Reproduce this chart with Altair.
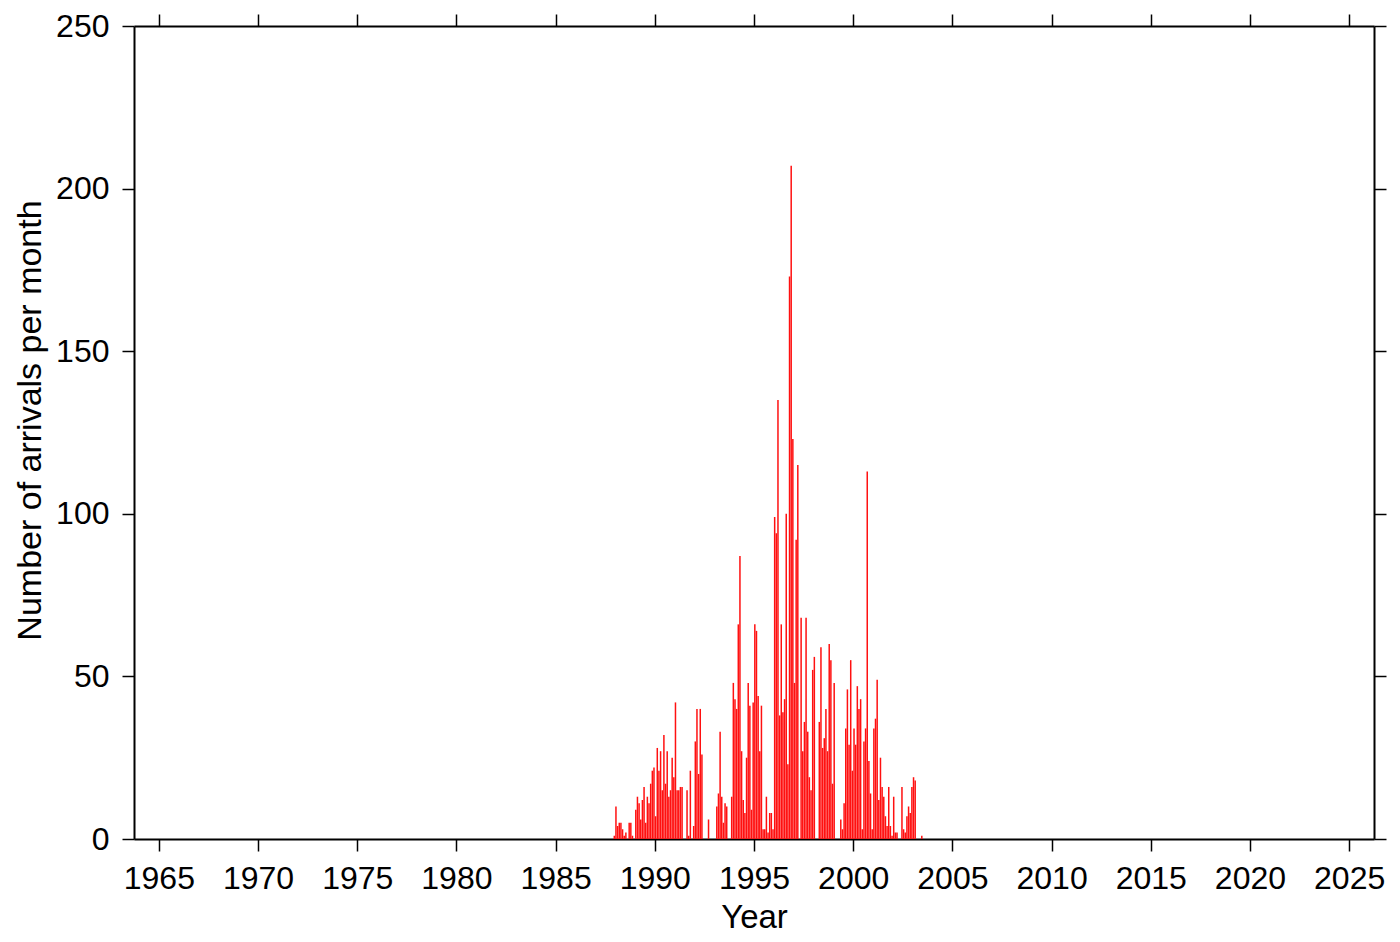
import altair as alt
import pandas as pd

# Monthly arrival counts (Jan..Dec)
c1987 = [0, 0, 0, 0, 0, 0, 0, 0, 0, 0, 0, 1]
c1988 = [10, 4, 5, 5, 3, 1, 2, 0, 5, 5, 1, 0]
c1989 = [9, 13, 11, 6, 12, 16, 5, 13, 11, 17, 21, 22]
c1990 = [7, 28, 21, 27, 15, 32, 17, 27, 13, 15, 25, 19]
c1991 = [42, 15, 15, 16, 16, 0, 0, 15, 1, 21, 0, 4]
c1992 = [30, 40, 20, 40, 26, 0, 0, 0, 6, 0, 0, 0]
c1993 = [0, 10, 14, 33, 13, 5, 11, 10, 0, 0, 13, 48]
c1994 = [43, 40, 66, 87, 27, 12, 8, 25, 48, 41, 9, 42]
c1995 = [66, 64, 44, 27, 41, 3, 3, 13, 2, 8, 8, 3]
c1996 = [99, 94, 135, 38, 66, 39, 43, 100, 23, 173, 207, 123]
c1997 = [48, 92, 115, 0, 68, 27, 36, 68, 33, 19, 15, 52]
c1998 = [56, 0, 0, 36, 59, 28, 31, 40, 27, 60, 55, 17]
c1999 = [48, 0, 0, 0, 6, 3, 11, 34, 46, 29, 55, 21]
c2000 = [34, 29, 47, 40, 43, 3, 30, 34, 113, 24, 14, 3]
c2001 = [34, 37, 49, 12, 25, 16, 13, 7, 4, 16, 4, 1]
c2002 = [13, 2, 2, 0, 0, 16, 3, 2, 7, 10, 8, 16]
c2003 = [19, 18, 0, 0, 0, 1, 0, 0, 0, 0, 0, 0]

years = list(range(1987, 2004))
yearly = [c1987, c1988, c1989, c1990, c1991, c1992, c1993, c1994, c1995,
          c1996, c1997, c1998, c1999, c2000, c2001, c2002, c2003]

x_ticks = [1965, 1970, 1975, 1980, 1985, 1990, 1995, 2000, 2005, 2010, 2015, 2020, 2025]
y_ticks = [0, 50, 100, 150, 200, 250]

rows = []
for yr, vals in zip(years, yearly):
    for m, v in enumerate(vals):
        if v > 0:
            rows.append({"t": yr + (m + 0.5) / 12.0, "n": v})
df = pd.DataFrame(rows)

FONT = "Liberation Sans"
xscale = alt.Scale(domain=[1964, 2026], nice=False, zero=False)
yscale = alt.Scale(domain=[0, 250], nice=False)

common = dict(grid=False, tickSize=12, tickWidth=1.5, tickColor="black",
              domainColor="black", domainWidth=2, labelFont=FONT,
              labelFontSize=32, labelColor="black", labelFlush=False,
              labelOverlap=False, labelBound=False)

bars = alt.Chart(df).mark_bar(size=1.5, color="#ff1010", orient="vertical").encode(
    x=alt.X("t:Q", scale=xscale,
            axis=alt.Axis(orient="bottom", values=x_ticks, format="d", title="Year",
                          labelPadding=12, titleFont=FONT, titleFontSize=33,
                          titleFontWeight="normal", titleColor="black",
                          titleBaseline="alphabetic", titleY=88, **common)),
    y=alt.Y("n:Q", scale=yscale,
            axis=alt.Axis(orient="left", values=y_ticks, format="d",
                          title="Number of arrivals per month", labelPadding=13,
                          titleFont=FONT, titleFontSize=34, titleFontWeight="normal",
                          titleColor="black", titleAngle=270, titleAlign="center",
                          titleBaseline="alphabetic", titleX=-94, titleY=394,
                          **common)),
)

frame = alt.Chart(df).mark_bar(size=1.5, opacity=0, orient="vertical").encode(
    x=alt.X("t:Q", scale=xscale,
            axis=alt.Axis(orient="top", values=x_ticks, labels=False, title=None, **common)),
    y=alt.Y("n:Q", scale=yscale,
            axis=alt.Axis(orient="right", values=y_ticks, labels=False, title=None, **common)),
)

chart = alt.layer(bars, frame).resolve_axis(x="independent", y="independent").properties(
    width=1240, height=813,
    padding={"left": 126, "top": 18, "right": 18, "bottom": 95},
    autosize=alt.AutoSizeParams(type="none"),
    background="white",
).configure_view(stroke=None)

chart.save("out.html", embed_options={"renderer": "svg", "actions": False})
